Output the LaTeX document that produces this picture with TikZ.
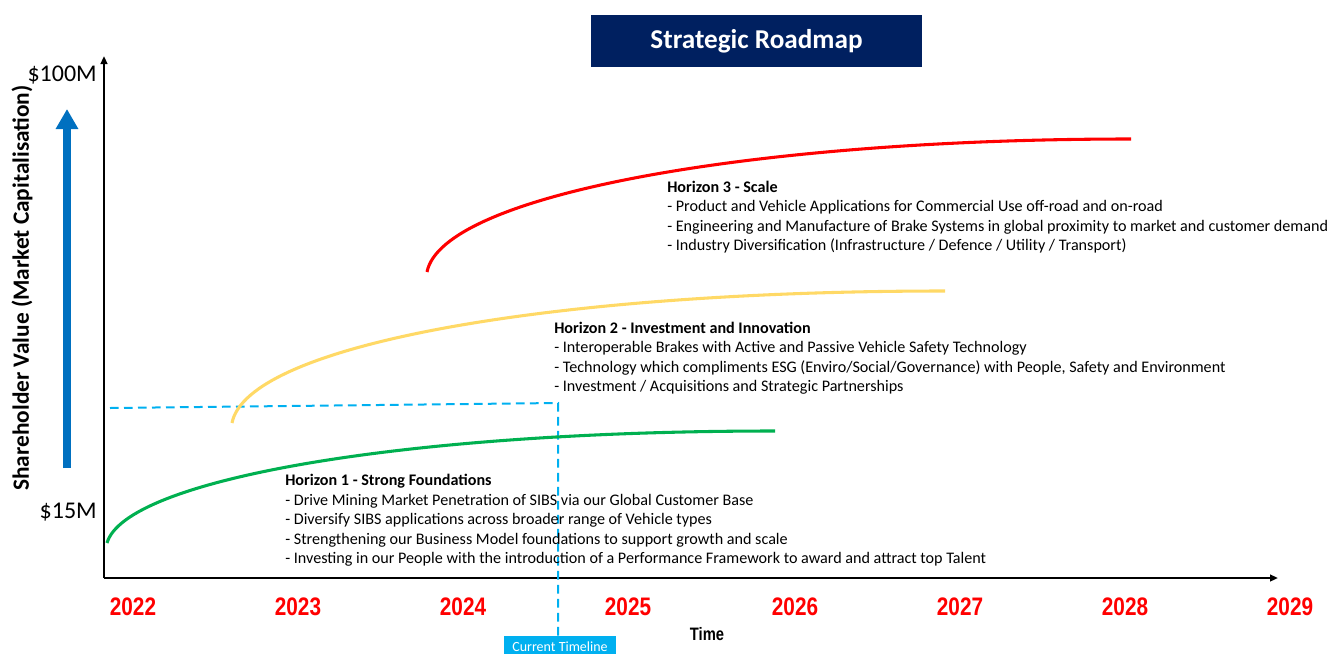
\documentclass[tikz,border=0pt]{standalone}
\usepackage{fontspec}
\setmainfont{Carlito}
\newfontfamily\narrowfont[FakeStretch=0.82]{Liberation Sans}
\usetikzlibrary{arrows.meta}
\definecolor{navy}{HTML}{002060}
\definecolor{skyb}{HTML}{00B0F0}
\definecolor{arrowblue}{HTML}{0070C0}
\definecolor{hgreen}{HTML}{00B050}
\definecolor{hyellow}{HTML}{FFD966}
\definecolor{hred}{HTML}{FF0000}
\tikzset{
  axisline/.style={line width=1.7pt, black, -{Triangle[length=6pt,width=5pt]}},
  curveline/.style={line width=2.3pt},
  curdash/.style={skyb, line width=1.5pt, dash pattern=on 6.5pt off 4pt},
  yearlabel/.style={text=hred, font=\narrowfont\bfseries\fontsize{19}{22}\selectfont, inner sep=0pt},
  valuelabel/.style={font=\fontsize{18}{21}\selectfont, inner sep=0pt, anchor=east},
  blocktext/.style={font=\fontsize{12.1}{14.6}\selectfont, align=left, anchor=north west, inner sep=0pt},
}
\begin{document}
\begin{tikzpicture}[x=0.75pt,y=-0.75pt]
\useasboundingbox (0,0) rectangle (1330,653);
% title
\node[fill=navy, text=white, font=\bfseries\fontsize{20.4}{24}\selectfont,
      minimum width=248.25pt, minimum height=39pt, inner sep=0pt] (title) at (756.5,41) {Strategic Roadmap};
% axes
\coordinate (O) at (104,578);
\coordinate (ytop) at (104,56);
\coordinate (xend) at (1278,578);
\draw[axisline] (O) -- (ytop);
\draw[axisline] (O) -- (xend);
% value labels
\node[valuelabel] (v100) at (97,75) {\$100M};
\node[valuelabel] (v15) at (97,512) {\$15M};
% blue arrow
\coordinate (b0) at (67,468);
\coordinate (b1) at (67,109);
\draw[arrowblue, line width=6pt, -{Triangle[length=15pt,width=16pt]}] (b0) -- (b1);
% y label
\node[rotate=90, font=\bfseries\fontsize{17.5}{20}\selectfont, inner sep=0pt] (ylab) at (22,288) {Shareholder Value (Market Capitalisation)};
% years
\node[yearlabel] (y22) at (133,607) {2022};
\node[yearlabel] (y23) at (298,607) {2023};
\node[yearlabel] (y24) at (463,607) {2024};
\node[yearlabel] (y25) at (628,607) {2025};
\node[yearlabel] (y26) at (795,607) {2026};
\node[yearlabel] (y27) at (960,607) {2027};
\node[yearlabel] (y28) at (1125,607) {2028};
\node[yearlabel] (y29) at (1290,607) {2029};
\node[font=\narrowfont\bfseries\fontsize{13.5}{16}\selectfont, inner sep=0pt] (time) at (707,634) {Time};
% current timeline
\node[fill=skyb, text=white, font=\fontsize{10.5}{12}\selectfont, minimum width=84pt, minimum height=15pt,
      anchor=north, inner sep=0pt, text depth=0pt] (ct) at (560,636) {Current Timeline};
\coordinate (dl) at (110,408);
\coordinate (dc) at (558,403);
\draw[curdash] (dl) -- (dc) -- (dc |- ct.north);
% curves
\coordinate (g0) at (107,543); \coordinate (g1) at (775,431);
\draw[curveline, hgreen] (g0) .. controls (125,480) and (400,431) .. (g1);
\coordinate (yy0) at (232,423); \coordinate (yy1) at (945,291);
\draw[curveline, hyellow] (yy0) .. controls (247,345) and (550,291) .. (yy1);
\coordinate (r0) at (427,272); \coordinate (r1) at (1131,139);
\draw[curveline, hred] (r0) .. controls (442,195) and (750,139) .. (r1);
% text blocks
\node[blocktext] (h3) at (667,180.5) {\textbf{Horizon 3 - Scale}\\
- Product and Vehicle Applications for Commercial Use off-road and on-road\\
- Engineering and Manufacture of Brake Systems in global proximity to market and customer demand\\
- Industry Diversification (Infrastructure / Defence / Utility / Transport)};
\node[blocktext] (h2) at (554,321.5) {\textbf{Horizon 2 - Investment and Innovation}\\
- Interoperable Brakes with Active and Passive Vehicle Safety Technology\\
- Technology which compliments ESG (Enviro/Social/Governance) with People, Safety and Environment\\
- Investment / Acquisitions and Strategic Partnerships};
\node[blocktext] (h1) at (285,474) {\textbf{Horizon 1 - Strong Foundations}\\
- Drive Mining Market Penetration of SIBS via our Global Customer Base\\
- Diversify SIBS applications across broader range of Vehicle types\\
- Strengthening our Business Model foundations to support growth and scale\\
- Investing in our People with the introduction of a Performance Framework to award and attract top Talent};
\end{tikzpicture}
\end{document}
